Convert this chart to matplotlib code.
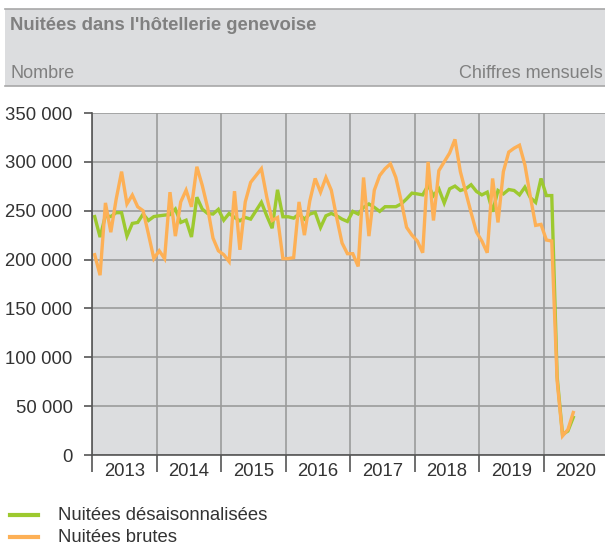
import numpy as np
import matplotlib
matplotlib.use("Agg")
import matplotlib.pyplot as plt
from matplotlib.patches import Rectangle
from matplotlib.lines import Line2D

plt.rcParams['font.family'] = ['Liberation Sans', 'DejaVu Sans']

title = "Nuitées dans l'hôtellerie genevoise"
unit_label = "Nombre"
freq_label = "Chiffres mensuels"
years = ["2013", "2014", "2015", "2016", "2017", "2018", "2019", "2020"]
series_names = ["Nuitées désaisonnalisées", "Nuitées brutes"]

# Monthly values, Jan 2013 - Jun 2020
desaison = [
    244000, 223000, 245000, 244000, 248000, 248000, 224000, 237000, 238000, 246500, 240000, 244000,
    244800, 245500, 246000, 251700, 238000, 240300, 223100, 263800, 251700, 247200, 246600, 251400,
    240300, 247200, 243100, 239700, 243100, 241400, 250000, 258600, 244800, 232100, 271400, 243800,
    243800, 242400, 246600, 241400, 246600, 248300, 232800, 244800, 247200, 244800, 241400, 239000,
    249300, 246600, 253400, 256900, 253400, 249300, 254100, 254100, 254100, 256900, 262100, 268000,
    267200, 266200, 275900, 265500, 272400, 257900, 272400, 275200, 270700, 272400, 276600, 269700,
    266200, 269000, 249000, 270700, 267200, 271700, 270700, 266200, 274100, 263500, 258500, 283000,
    265500, 265500, 80000, 21000, 24500, 38500,
]
brutes = [
    205000, 184000, 258000, 228000, 262000, 290000, 257000, 266000, 254000, 250000, 226000, 201000,
    209000, 201000, 269000, 224000, 259000, 271000, 254000, 295000, 276000, 253000, 222000, 209000,
    205000, 198000, 270000, 210000, 259000, 279000, 286000, 293000, 264000, 240000, 243000, 201000,
    201000, 202000, 259000, 225000, 260000, 283000, 269000, 284000, 271000, 243000, 217000, 206000,
    206000, 193000, 284000, 224000, 271000, 286000, 293000, 298000, 284000, 260000, 233000, 225000,
    219000, 207000, 300000, 240000, 291000, 300000, 309000, 323000, 290000, 269000, 248000, 228000,
    219000, 207000, 283000, 238000, 290000, 310000, 314000, 317000, 297000, 265000, 235000, 236000,
    220000, 219000, 76000, 19500, 26000, 43500,
]
y_ticks = [0, 50000, 100000, 150000, 200000, 250000, 300000, 350000]

GREEN = "#9dc92f"
ORANGE = "#fdb056"
BG = "#dcdddf"
GRID = "#9b9b9b"
TXT = "#333333"
HEAD_TXT = "#808080"

W, H = 605, 546
fig = plt.figure(figsize=(W / 100, H / 100), dpi=100)

# header band
fig.patches.append(Rectangle((5 / W, 1 - 86 / H), 1 - 5 / W, (86 - 9) / H,
                             transform=fig.transFigure, facecolor=BG, edgecolor="none", zorder=0))
for yy in (9, 86):
    fig.lines.append(Line2D([5 / W, 1], [1 - yy / H, 1 - yy / H], transform=fig.transFigure,
                            color="#a8a8a8", lw=1.2))
fig.text(10 / W, 1 - 25 / H, title, fontsize=13.3, fontweight="bold", color=HEAD_TXT,
         ha="left", va="center")
fig.text(10 / W, 1 - 74 / H, unit_label, fontsize=13, color=HEAD_TXT, ha="left", va="center")
fig.text(603 / W, 1 - 74 / H, freq_label, fontsize=13, color=HEAD_TXT, ha="right", va="center")

left, right, top, bottom = 92, 605, 113, 455
ax = fig.add_axes([left / W, 1 - bottom / H, (right - left) / W, (bottom - top) / H])
ax.set_facecolor(BG)

x_d = np.arange(len(desaison)) + 0.5
x_b = np.arange(len(brutes)) + 0.5
ax.plot(x_d, desaison, color=GREEN, lw=2.4, solid_joinstyle="miter", zorder=3)
ax.plot(x_b, brutes, color=ORANGE, lw=2.4, solid_joinstyle="miter", zorder=4)

ax.set_xlim(0, 95.4)
ax.set_ylim(0, 350000)

ax.set_yticks(y_ticks)
ax.set_yticklabels([f"{v:,}".replace(",", " ") for v in y_ticks])
ax.set_xticks(np.arange(0, 12 * len(years), 12))
ax.set_xticklabels([])
ax.set_xticks(np.arange(len(years)) * 12 + 6, minor=True)
ax.set_xticklabels(years, minor=True)

ax.tick_params(axis="y", which="major", length=6, width=1.2, color="#555555",
               labelsize=13.3, labelcolor=TXT, pad=8)
ax.tick_params(axis="x", which="major", length=12, width=1.2, color="#555555")
ax.tick_params(axis="x", which="minor", length=0, labelsize=13.3, labelcolor=TXT, pad=6)

ax.grid(True, which="major", color=GRID, lw=1.2, zorder=1)
ax.set_axisbelow(True)
for s in ("top", "right"):
    ax.spines[s].set_visible(False)
for s in ("left", "bottom"):
    ax.spines[s].set_color("#555555")
    ax.spines[s].set_linewidth(1.2)
    ax.spines[s].set_zorder(5)

# legend
for i, (name, col) in enumerate(zip(series_names, [GREEN, ORANGE])):
    yy = 1 - (515 + 22 * i) / H
    fig.lines.append(Line2D([10 / W, 38 / W], [yy, yy], transform=fig.transFigure,
                            color=col, lw=3))
    fig.text(58 / W, yy, name, fontsize=13.3, color=TXT, ha="left", va="center")

fig.savefig("out.png", dpi=100)
